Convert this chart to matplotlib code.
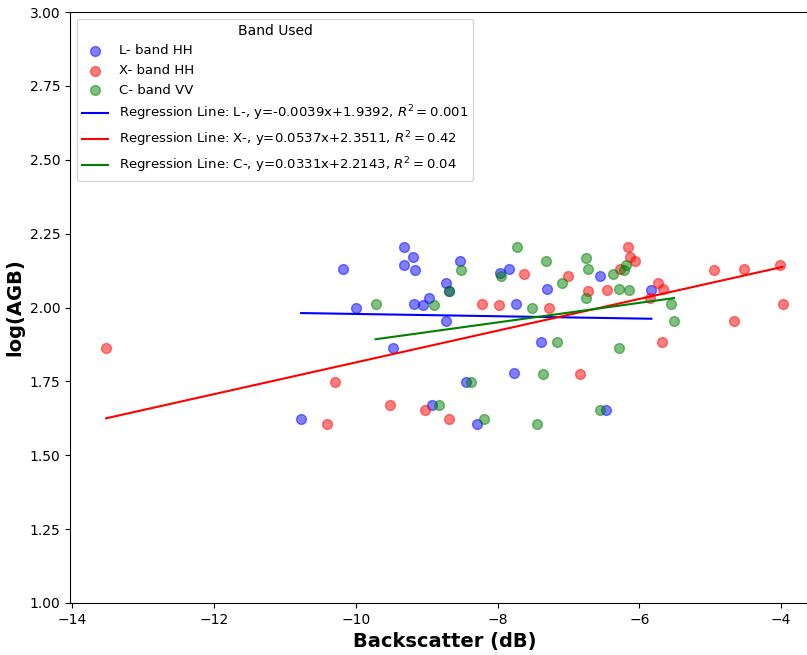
import numpy as np
import matplotlib
matplotlib.use('Agg')
import matplotlib.pyplot as plt

# backscatter (dB) and log(AGB) per band
l_x = [-10.18, -9.32, -9.19, -9.32, -9.17, -9.99, -9.18, -9.05, -8.97, -9.48,
       -10.77, -8.53, -7.84, -7.96, -7.30, -8.72, -8.69, -7.74, -8.72, -7.38,
       -7.77, -8.45, -8.92, -8.29, -6.55, -5.83, -6.47]
l_y = [2.130, 2.205, 2.170, 2.143, 2.127, 1.997, 2.013, 2.007, 2.033, 1.864,
       1.623, 2.157, 2.129, 2.116, 2.062, 2.082, 2.056, 2.013, 1.954, 1.883,
       1.777, 1.747, 1.671, 1.606, 2.107, 2.059, 1.652]

x_x = [-13.52, -10.29, -9.52, -10.41, -9.02, -8.69, -7.62, -7.01, -8.22, -7.98,
       -7.28, -6.16, -6.13, -6.06, -6.27, -6.72, -6.45, -5.74, -5.66, -5.85,
       -5.68, -6.83, -4.94, -4.52, -4.01, -3.98, -4.67]
x_y = [1.863, 1.747, 1.671, 1.606, 1.652, 1.623, 2.113, 2.108, 2.012, 2.007,
       1.997, 2.205, 2.170, 2.157, 2.129, 2.056, 2.059, 2.082, 2.063, 2.031,
       1.883, 1.776, 2.127, 2.130, 2.143, 2.013, 1.954]

c_x = [-9.72, -8.90, -8.52, -7.72, -7.32, -7.95, -7.09, -8.69, -7.51, -7.16,
       -7.36, -8.38, -8.82, -8.19, -7.45, -6.19, -6.21, -6.75, -6.73, -6.37,
       -6.29, -6.14, -6.75, -5.55, -5.51, -6.28, -6.55]
c_y = [2.013, 2.007, 2.127, 2.205, 2.157, 2.108, 2.082, 2.056, 1.997, 1.883,
       1.776, 1.747, 1.671, 1.623, 1.606, 2.144, 2.127, 2.169, 2.130, 2.113,
       2.063, 2.058, 2.033, 2.012, 1.954, 1.864, 1.652]

# regression coefficients as printed in the legend
l_fit = (-0.0039, 1.9392, '0.001')
x_fit = (0.0537, 2.3511, '0.42')
c_fit = (0.0331, 2.2143, '0.04')

fig = plt.figure(figsize=(8.07, 6.55), dpi=100)
ax = fig.add_axes([70/807, 52/655, 749/807, 591/655])

bands = [
    ('L- band HH', 'L-', l_x, l_y, l_fit, 'blue'),
    ('X- band HH', 'X-', x_x, x_y, x_fit, 'red'),
    ('C- band VV', 'C-', c_x, c_y, c_fit, 'green'),
]

pts = []
lines = []
for name, short, xs, ys, fit, col in bands:
    pts.append(ax.scatter(xs, ys, color=col, alpha=0.5, s=50, label=name))
for name, short, xs, ys, fit, col in bands:
    m, b, r2 = fit
    xx = np.array([min(xs), max(xs)])
    lab = f'Regression Line: {short}, y={m}x+{b}, $R^2 = {r2}$'
    ln, = ax.plot(xx, m * xx + b, color=col, lw=1.5, label=lab)
    lines.append(ln)

ax.set_xlim(-14.03, -3.466)
ax.set_ylim(1.0, 3.0)
ax.set_xlabel('Backscatter (dB)', fontsize=14, fontweight='bold')
ax.set_ylabel('log(AGB)', fontsize=14, fontweight='bold')
ax.legend(handles=pts + lines, title='Band Used', loc='upper left', fontsize=9.5)

fig.savefig('out.png', dpi=100)
